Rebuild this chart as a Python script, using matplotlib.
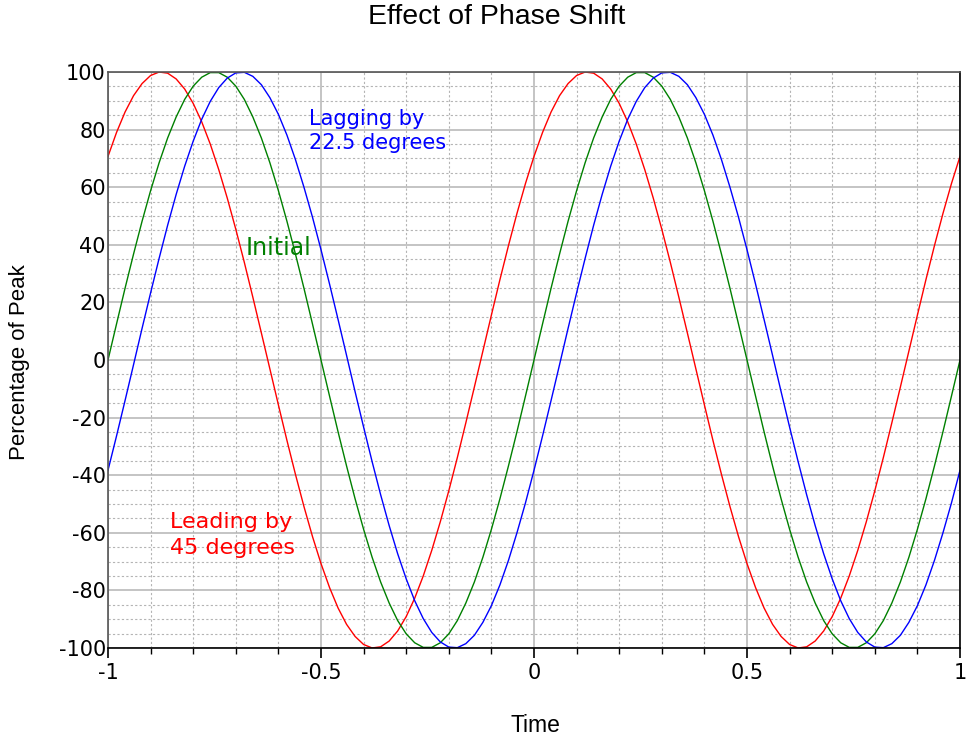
import numpy as np
import matplotlib.pyplot as plt
from matplotlib.ticker import MultipleLocator

# Sample times (100 intervals over -1..1)
time = np.linspace(-1, 1, 101)

# Initial waveform (% of peak)
initial = [
    0, 12.5, 24.9, 36.8, 48.2, 58.8, 68.5, 77.1, 84.4, 90.5, 95.1, 98.2, 99.8,
    99.8, 98.2, 95.1, 90.5, 84.4, 77.1, 68.5, 58.8, 48.2, 36.8, 24.9, 12.5,
    0, -12.5, -24.9, -36.8, -48.2, -58.8, -68.5, -77.1, -84.4, -90.5, -95.1, -98.2, -99.8,
    -99.8, -98.2, -95.1, -90.5, -84.4, -77.1, -68.5, -58.8, -48.2, -36.8, -24.9, -12.5,
    0, 12.5, 24.9, 36.8, 48.2, 58.8, 68.5, 77.1, 84.4, 90.5, 95.1, 98.2, 99.8,
    99.8, 98.2, 95.1, 90.5, 84.4, 77.1, 68.5, 58.8, 48.2, 36.8, 24.9, 12.5,
    0, -12.5, -24.9, -36.8, -48.2, -58.8, -68.5, -77.1, -84.4, -90.5, -95.1, -98.2, -99.8,
    -99.8, -98.2, -95.1, -90.5, -84.4, -77.1, -68.5, -58.8, -48.2, -36.8, -24.9, -12.5,
    0,
]

# Leading by 45 degrees
leading = [
    70.7, 79.0, 86.1, 91.8, 96.0, 98.8, 100.0, 99.6, 97.6, 94.1, 89.1, 82.7, 75.0,
    66.1, 56.2, 45.4, 33.9, 21.8, 9.4, -3.1, -15.6, -27.9, -39.7, -50.9, -61.3,
    -70.7, -79.0, -86.1, -91.8, -96.0, -98.8, -100.0, -99.6, -97.6, -94.1, -89.1, -82.7, -75.0,
    -66.1, -56.2, -45.4, -33.9, -21.8, -9.4, 3.1, 15.6, 27.9, 39.7, 50.9, 61.3,
    70.7, 79.0, 86.1, 91.8, 96.0, 98.8, 100.0, 99.6, 97.6, 94.1, 89.1, 82.7, 75.0,
    66.1, 56.2, 45.4, 33.9, 21.8, 9.4, -3.1, -15.6, -27.9, -39.7, -50.9, -61.3,
    -70.7, -79.0, -86.1, -91.8, -96.0, -98.8, -100.0, -99.6, -97.6, -94.1, -89.1, -82.7, -75.0,
    -66.1, -56.2, -45.4, -33.9, -21.8, -9.4, 3.1, 15.6, 27.9, 39.7, 50.9, 61.3,
    70.7,
]

# Lagging by 22.5 degrees
lagging = [
    -38.3, -26.4, -14.1, -1.6, 11.0, 23.3, 35.3, 46.8, 57.5, 67.3, 76.0, 83.6, 89.8,
    94.6, 97.9, 99.7, 99.9, 98.5, 95.6, 91.1, 85.3, 78.1, 69.6, 60.0, 49.6,
    38.3, 26.4, 14.1, 1.6, -11.0, -23.3, -35.3, -46.8, -57.5, -67.3, -76.0, -83.6, -89.8,
    -94.6, -97.9, -99.7, -99.9, -98.5, -95.6, -91.1, -85.3, -78.1, -69.6, -60.0, -49.6,
    -38.3, -26.4, -14.1, -1.6, 11.0, 23.3, 35.3, 46.8, 57.5, 67.3, 76.0, 83.6, 89.8,
    94.6, 97.9, 99.7, 99.9, 98.5, 95.6, 91.1, 85.3, 78.1, 69.6, 60.0, 49.6,
    38.3, 26.4, 14.1, 1.6, -11.0, -23.3, -35.3, -46.8, -57.5, -67.3, -76.0, -83.6, -89.8,
    -94.6, -97.9, -99.7, -99.9, -98.5, -95.6, -91.1, -85.3, -78.1, -69.6, -60.0, -49.6,
    -38.3,
]

xtick_vals = [-1, -0.5, 0, 0.5, 1]
xtick_labels = ['-1', '-0.5', '0', '0.5', '1']
ytick_vals = list(range(-100, 101, 20))

fig = plt.figure(figsize=(9.66, 7.38), dpi=100)
ax = fig.add_axes([0.1118, 0.122, 0.882, 0.7804])

ax.plot(time, leading, color='#ff0000', lw=1.0)
ax.plot(time, initial, color='#008000', lw=1.0)
ax.plot(time, lagging, color='#0000ff', lw=1.0)

ax.set_xlim(-1, 1)
ax.set_ylim(-100, 100)
ax.set_xticks(xtick_vals)
ax.set_xticklabels(xtick_labels)
ax.xaxis.set_minor_locator(MultipleLocator(0.1))
ax.set_yticks(ytick_vals)
ax.set_yticklabels([str(v) for v in ytick_vals])
ax.yaxis.set_minor_locator(MultipleLocator(5))

ax.grid(which='major', color='#b4b4b4', lw=1.1, ls='-')
ax.grid(which='minor', color='#b4b4b4', lw=0.8, ls=(0, (2, 2)))
ax.set_axisbelow(True)

ax.tick_params(axis='x', which='major', direction='out', length=7, width=1.2,
               labelsize=15, pad=4)
ax.tick_params(axis='x', which='minor', direction='out', length=4.5, width=1.0)
ax.tick_params(axis='y', which='both', length=0, labelsize=15, pad=1.5)

for side in ['bottom', 'right']:
    ax.spines[side].set_color('black')
    ax.spines[side].set_linewidth(1.2)
for side in ['top', 'left']:
    ax.spines[side].set_color('#555555')
    ax.spines[side].set_linewidth(1.2)

fig.text(0.5538, 0.0176, 'Time', ha='center', va='center',
         fontsize=16.5, family='Liberation Sans')
fig.text(0.0207, 0.5095, 'Percentage of Peak', ha='center', va='center',
         rotation=90, fontsize=16, family='Liberation Sans')
fig.text(0.5145, 0.977, 'Effect of Phase Shift', ha='center', va='center',
         fontsize=20.5, family='Liberation Sans')

ax.text(-0.527, 79.5, 'Lagging by\n22.5 degrees', color='#0000ff', fontsize=15,
        va='center', ha='left', linespacing=1.3)
ax.text(-0.677, 39.0, 'Initial', color='#008000', fontsize=17, va='center', ha='left')
ax.text(-0.855, -60.8, 'Leading by\n45 degrees', color='#ff0000', fontsize=16,
        va='center', ha='left', linespacing=1.38)

plt.savefig('out.png', dpi=100)
